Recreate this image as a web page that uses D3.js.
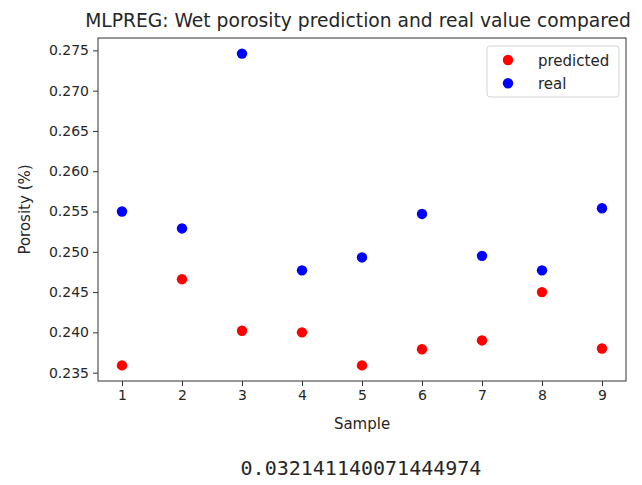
<!DOCTYPE html>
<html>
<head>
<meta charset="utf-8">
<script src="https://cdn.jsdelivr.net/npm/d3@7/dist/d3.min.js"></script>
<style>
  html, body { margin: 0; padding: 0; background: #fff; }
  svg { display: block; }
  text { font-family: "DejaVu Sans", sans-serif; fill: #262626; }
</style>
</head>
<body>
<svg id="chart" width="642" height="485"></svg>
<script>
const samples = [1, 2, 3, 4, 5, 6, 7, 8, 9];
const predicted = [0.2359, 0.2466, 0.2402, 0.2400, 0.2359, 0.2379, 0.2390, 0.2450, 0.2380];
const real = [0.2550, 0.2529, 0.2746, 0.2477, 0.2493, 0.2547, 0.2495, 0.2477, 0.2554];
const yTicks = [0.235, 0.240, 0.245, 0.250, 0.255, 0.260, 0.265, 0.270, 0.275];
const xTicks = [1, 2, 3, 4, 5, 6, 7, 8, 9];
const seriesNames = ["predicted", "real"];
const seriesColors = ["#ff0000", "#0000ff"];
const titleText = "MLPREG: Wet porosity prediction and real value compared";
const xLabel = "Sample";
const yLabel = "Porosity (%)";
const footerText = "0.032141140071444974";

const svg = d3.select("#chart");
const m = { left: 98, right: 626, top: 38, bottom: 381 };

const xMin = d3.min(samples), xMax = d3.max(samples);
const xPad = (xMax - xMin) * 0.05;
const x = d3.scaleLinear().domain([xMin - xPad, xMax + xPad]).range([m.left, m.right]);

const allY = predicted.concat(real);
const yMin = d3.min(allY), yMax = d3.max(allY);
const yPad = (yMax - yMin) * 0.05;
const y = d3.scaleLinear().domain([yMin - yPad, yMax + yPad]).range([m.bottom, m.top]);

// axes
const xAxis = d3.axisBottom(x).tickValues(xTicks).tickFormat(d3.format("d")).tickSize(5).tickPadding(4);
const yAxis = d3.axisLeft(y).tickValues(yTicks).tickFormat(d3.format(".3f")).tickSize(5).tickPadding(4);

const gx = svg.append("g").attr("transform", `translate(0,${m.bottom})`).call(xAxis);
const gy = svg.append("g").attr("transform", `translate(${m.left},0)`).call(yAxis);
[gx, gy].forEach(g => {
  g.select(".domain").remove();
  g.selectAll(".tick line").attr("stroke", "#333").attr("stroke-width", 1);
  g.selectAll(".tick text").attr("font-size", "14px").attr("fill", "#262626")
    .attr("font-family", "DejaVu Sans, sans-serif");
});

// frame
svg.append("rect")
  .attr("x", m.left).attr("y", m.top)
  .attr("width", m.right - m.left).attr("height", m.bottom - m.top)
  .attr("fill", "none").attr("stroke", "#333").attr("stroke-width", 1);

// points
const series = [predicted, real];
series.forEach((vals, i) => {
  svg.append("g").selectAll("circle")
    .data(vals)
    .join("circle")
    .attr("cx", (d, j) => x(samples[j]))
    .attr("cy", d => y(d))
    .attr("r", 5.2)
    .attr("fill", seriesColors[i]);
});

// title
svg.append("text")
  .attr("x", 358).attr("y", 27)
  .attr("text-anchor", "middle").attr("font-size", "18.7px")
  .text(titleText);

// axis labels
svg.append("text")
  .attr("x", (m.left + m.right) / 2).attr("y", 429)
  .attr("text-anchor", "middle").attr("font-size", "15px")
  .text(xLabel);
svg.append("text")
  .attr("transform", `translate(30,${(m.top + m.bottom) / 2}) rotate(-90)`)
  .attr("text-anchor", "middle").attr("font-size", "15px")
  .text(yLabel);

// legend
const lg = svg.append("g");
lg.append("rect")
  .attr("x", 487).attr("y", 46).attr("width", 132).attr("height", 51)
  .attr("rx", 3).attr("fill", "#fff").attr("fill-opacity", 0.8)
  .attr("stroke", "#d5d5d5").attr("stroke-width", 1);
seriesNames.forEach((name, i) => {
  const cy = 60 + i * 23.3;
  lg.append("circle").attr("cx", 508).attr("cy", cy).attr("r", 5.2).attr("fill", seriesColors[i]);
  lg.append("text").attr("x", 538).attr("y", cy + 5.5).attr("font-size", "15px").text(name);
});

// footer output
svg.append("text")
  .attr("x", 361).attr("y", 475)
  .attr("text-anchor", "middle").attr("font-size", "20px")
  .attr("fill", "#000")
  .style("font-family", "'DejaVu Sans Mono', monospace")
  .text(footerText);
</script>
</body>
</html>
